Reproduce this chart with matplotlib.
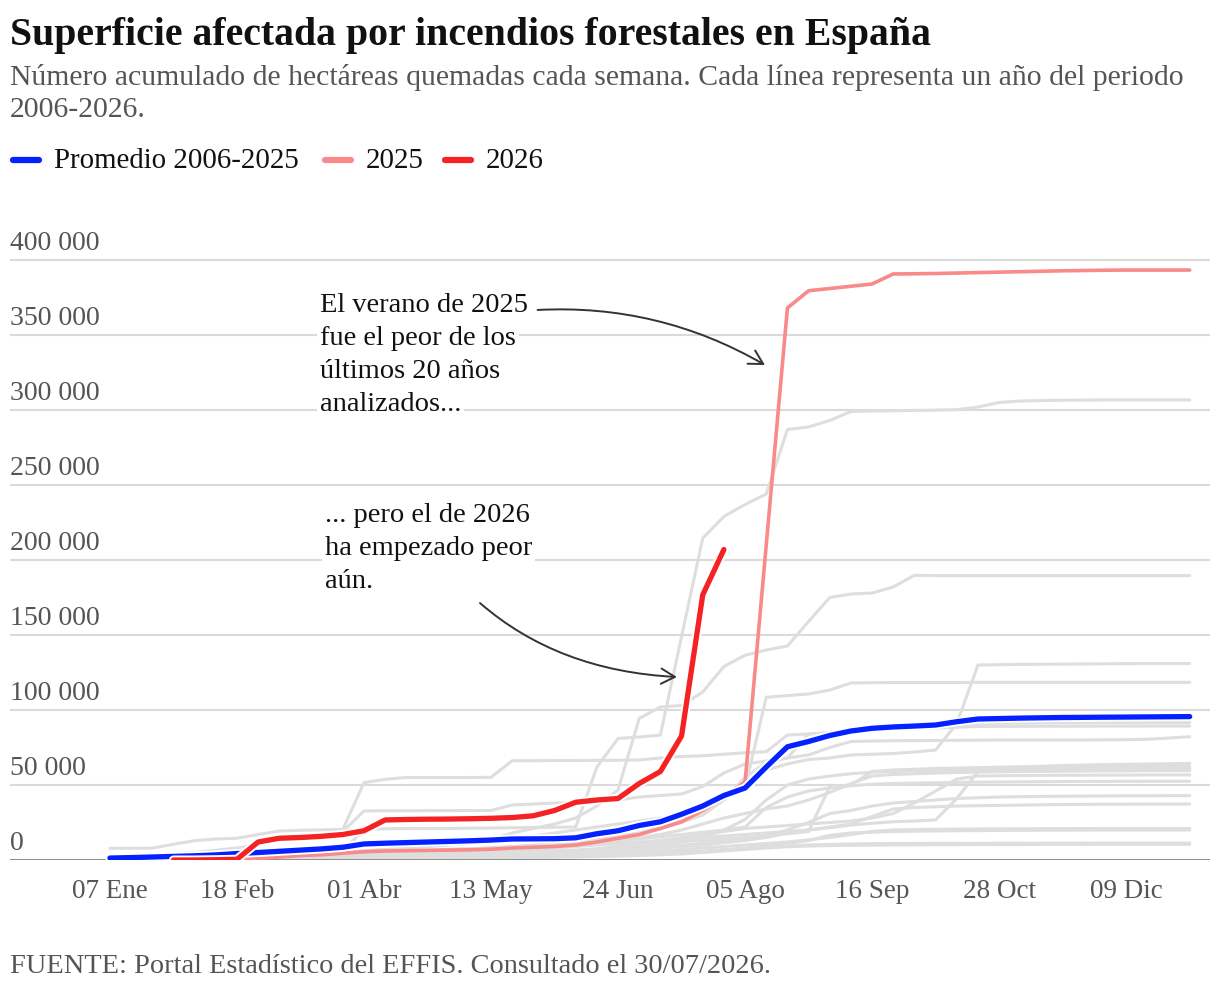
import numpy as np
import matplotlib
matplotlib.use("Agg")
import matplotlib.pyplot as plt
import matplotlib.patheffects as pe
import matplotlib.transforms as mtransforms
from matplotlib.lines import Line2D

plt.rcParams['font.family'] = ['Liberation Serif', 'DejaVu Serif']

# semanas desde el 07 Ene
semanas = np.arange(52)
etiquetas_x = ['07 Ene', '18 Feb', '01 Abr', '13 May', '24 Jun', '05 Ago', '16 Sep', '28 Oct', '09 Dic']
ticks_y = [0, 50000, 100000, 150000, 200000, 250000, 300000, 350000, 400000]

# valores en miles de hectáreas
promedio = [1.3, 1.6, 2.0, 2.4, 2.8, 3.4, 4.3, 5.0, 5.8, 6.6,
            7.4, 8.5, 10.7, 11.2, 11.6, 12.0, 12.4, 12.8, 13.3, 14.0,
            14.1, 14.2, 14.8, 17.5, 19.5, 23.0, 25.5, 30.5, 36.0, 43.0,
            48.0, 62.0, 75.5, 79.0, 83.0, 86.0, 87.8, 88.7, 89.3, 90.0,
            92.2, 94.0, 94.3, 94.6, 94.8, 95.0, 95.1, 95.2, 95.3, 95.4,
            95.5, 95.6]
anio_2025 = [0.1, 0.1, 0.2, 0.2, 0.3, 0.3, 0.4, 1.0, 2.0, 3.0,
             3.5, 4.5, 5.5, 6.0, 6.2, 6.4, 6.6, 6.8, 7.2, 8.0,
             8.5, 9.0, 10.0, 12.0, 14.5, 17.0, 21.0, 25.5, 33.0, 42.0,
             52.0, 210.0, 368.0, 379.5, 381.0, 382.5, 384.0, 390.7, 390.8, 391.0,
             391.3, 391.6, 391.9, 392.2, 392.5, 392.8, 393.0, 393.2, 393.3, 393.3,
             393.3, 393.3]
anio_2026 = [np.nan, np.nan, np.nan, 0.0, 0.0, 0.2, 0.5, 12.0, 14.5, 15.0,
             15.8, 17.0, 19.5, 26.7, 27.0, 27.2, 27.3, 27.5, 27.8, 28.3,
             29.5, 33.0, 38.5, 40.0, 41.0, 51.0, 59.0, 82.7, 176.7, 207.0]

gris_01 = [1.0, 1.2, 1.5, 1.8, 2.0, 2.5, 3.0, 3.5, 4.0, 4.5,
           5.0, 6.0, 20.5, 20.8, 21.0, 21.0, 21.0, 21.2, 21.3, 21.5,
           21.7, 21.8, 22.0, 62.0, 81.0, 82.0, 83.3, 149.0, 214.5, 229.0,
           237.0, 244.0, 287.0, 288.7, 293.0, 299.0, 299.3, 299.5, 299.7, 299.9,
           300.2, 302.0, 305.0, 306.0, 306.3, 306.5, 306.6, 306.7, 306.7, 306.7,
           306.7, 306.7]
gris_02 = [0.5, 0.8, 1.0, 1.3, 1.6, 2.0, 2.5, 3.0, 3.5, 4.0,
           4.5, 5.0, 6.0, 7.0, 8.0, 9.0, 10.5, 12.0, 14.0, 18.0,
           21.0, 24.0, 28.0, 36.0, 46.7, 94.4, 102.0, 103.0, 112.0, 129.0,
           136.5, 140.0, 142.7, 159.0, 175.0, 177.3, 178.0, 182.0, 189.8, 189.6,
           189.6, 189.6, 189.6, 189.6, 189.6, 189.6, 189.6, 189.6, 189.6, 189.6,
           189.6, 189.6]
gris_03 = [7.8, 7.8, 7.9, 10.5, 12.9, 14.0, 14.5, 17.0, 19.3, 19.8,
           20.1, 20.4, 51.6, 53.8, 55.0, 55.0, 55.0, 55.0, 55.1, 66.2,
           66.2, 66.3, 66.3, 66.4, 66.5, 66.7, 68.0, 69.0, 69.5, 70.5,
           71.5, 72.2, 83.3, 84.0, 84.7, 86.7, 87.5, 88.0, 88.5, 89.0,
           90.0, 91.0, 91.2, 91.3, 91.4, 91.5, 91.5, 91.6, 91.6, 91.6,
           91.6, 91.6]
gris_04 = [0.3, 0.5, 0.7, 0.9, 1.2, 1.5, 1.8, 2.2, 2.6, 3.0,
           3.5, 4.0, 4.5, 5.0, 5.5, 6.0, 6.5, 7.0, 7.5, 8.0,
           9.0, 10.0, 11.5, 13.0, 15.0, 18.0, 22.0, 28.0, 35.0, 41.0,
           48.0, 108.5, 109.6, 110.7, 113.3, 118.0, 118.2, 118.3, 118.3, 118.3,
           118.3, 118.4, 118.4, 118.4, 118.4, 118.4, 118.4, 118.4, 118.4, 118.4,
           118.4, 118.4]
gris_05 = [0.2, 0.3, 0.5, 0.7, 1.0, 1.3, 1.6, 2.0, 2.5, 3.0,
           3.5, 4.0, 4.5, 5.0, 5.5, 6.0, 6.5, 7.0, 8.0, 9.0,
           10.0, 11.0, 12.5, 14.0, 16.0, 18.0, 21.0, 25.0, 30.0, 40.0,
           52.0, 60.0, 64.0, 67.0, 68.0, 70.0, 70.5, 71.0, 72.0, 73.3,
           91.0, 130.0, 130.2, 130.4, 130.5, 130.6, 130.7, 130.8, 130.9, 131.0,
           131.0, 131.0]
gris_06 = [0.5, 0.8, 1.2, 1.5, 2.0, 2.5, 3.0, 3.5, 4.0, 4.5,
           5.0, 5.5, 6.0, 7.0, 8.0, 9.0, 10.0, 11.0, 12.0, 14.0,
           16.0, 18.0, 20.0, 22.0, 24.0, 26.0, 28.0, 30.0, 33.0, 40.0,
           55.0, 65.0, 68.0, 70.0, 75.0, 79.0, 79.3, 79.5, 79.6, 79.7,
           79.8, 79.9, 80.0, 80.0, 80.0, 80.0, 80.0, 80.1, 80.2, 80.5,
           81.3, 82.2]
gris_07 = [2.0, 2.5, 3.0, 4.0, 5.0, 6.5, 8.0, 10.0, 13.0, 15.0,
           17.0, 19.0, 32.7, 32.8, 32.8, 32.9, 32.9, 33.0, 33.0, 36.7,
           37.3, 38.0, 38.5, 39.0, 40.0, 42.0, 43.0, 44.0, 49.0, 58.0,
           64.0, 66.0, 68.0, 84.0, 85.0, 86.0, 86.5, 87.0, 87.5, 88.0,
           88.5, 89.0, 89.1, 89.1, 89.2, 89.2, 89.2, 89.3, 89.3, 89.3,
           89.3, 89.3]
gris_08 = [0.2, 0.3, 0.4, 0.5, 0.6, 0.8, 1.0, 1.2, 1.5, 1.8,
           2.0, 2.3, 2.6, 3.0, 3.5, 4.0, 4.5, 5.0, 5.5, 6.0,
           7.0, 8.0, 9.0, 10.0, 11.0, 12.0, 13.0, 14.0, 15.0, 16.0,
           17.0, 18.0, 19.0, 20.0, 21.5, 23.3, 24.5, 25.5, 26.0, 26.7,
           41.0, 59.0, 61.0, 62.0, 62.5, 63.0, 63.3, 63.6, 63.8, 64.0,
           64.2, 64.4]
gris_09 = [0.3, 0.5, 0.8, 1.0, 1.3, 1.6, 2.0, 2.5, 3.0, 3.5,
           4.0, 4.5, 5.0, 5.5, 6.0, 6.5, 7.0, 7.5, 8.0, 8.5,
           9.0, 9.5, 10.0, 10.5, 11.0, 11.5, 12.0, 12.5, 13.0, 14.0,
           15.0, 16.0, 17.5, 19.0, 49.0, 50.0, 59.0, 60.0, 60.5, 61.0,
           61.3, 61.6, 61.9, 62.1, 62.3, 62.4, 62.5, 62.6, 62.6, 62.7,
           62.7, 62.7]
gris_10 = [0.1, 0.2, 0.3, 0.4, 0.5, 0.6, 0.8, 1.0, 1.2, 1.4,
           1.6, 1.8, 2.0, 2.3, 2.6, 3.0, 3.4, 3.8, 4.2, 4.6,
           5.0, 5.5, 6.0, 7.0, 8.0, 9.0, 10.5, 12.0, 15.0, 20.0,
           27.0, 40.0, 50.0, 54.0, 56.0, 57.5, 58.5, 59.0, 59.5, 59.8,
           60.0, 60.2, 60.4, 60.6, 60.7, 60.8, 60.9, 61.0, 61.0, 61.1,
           61.1, 61.1]
gris_11 = [0.5, 0.7, 1.0, 1.3, 1.6, 2.0, 2.4, 2.8, 3.2, 3.6,
           4.0, 4.4, 5.0, 5.5, 6.0, 6.5, 7.0, 7.5, 8.0, 8.5,
           9.0, 10.0, 11.0, 12.0, 13.0, 15.0, 17.0, 20.0, 24.0, 28.0,
           31.0, 34.0, 36.0, 40.0, 45.0, 51.0, 56.0, 57.0, 57.5, 58.0,
           58.3, 58.6, 58.8, 59.0, 59.1, 59.2, 59.3, 59.4, 59.4, 59.5,
           59.5, 59.5]
gris_12 = [0.2, 0.3, 0.4, 0.6, 0.8, 1.0, 1.2, 1.4, 1.6, 1.8,
           2.0, 2.2, 2.4, 2.7, 3.0, 3.3, 3.6, 4.0, 4.4, 4.8,
           5.2, 5.8, 6.5, 7.5, 9.0, 11.0, 13.0, 15.0, 17.0, 19.0,
           21.0, 22.0, 23.0, 24.0, 25.0, 26.0, 28.0, 31.0, 38.0, 46.0,
           54.0, 56.0, 56.2, 56.3, 56.4, 56.5, 56.5, 56.6, 56.6, 56.7,
           56.7, 56.7]
gris_13 = [0.3, 0.5, 0.7, 1.0, 1.3, 1.6, 2.0, 2.4, 2.8, 3.2,
           3.6, 4.0, 4.5, 5.0, 5.5, 6.0, 6.5, 7.0, 7.5, 8.0,
           9.0, 10.0, 11.0, 12.0, 13.0, 14.0, 15.5, 17.0, 18.5, 20.0,
           22.0, 35.0, 42.0, 46.0, 48.0, 49.5, 50.5, 51.0, 51.3, 51.5,
           51.7, 51.9, 52.0, 52.1, 52.2, 52.3, 52.4, 52.4, 52.5, 52.5,
           52.5, 52.5]
gris_14 = [0.2, 0.3, 0.4, 0.5, 0.6, 0.7, 0.9, 1.1, 1.3, 1.5,
           1.8, 2.1, 2.4, 2.7, 3.0, 3.4, 3.8, 4.2, 4.6, 5.0,
           5.5, 6.0, 6.5, 7.0, 7.5, 8.0, 9.0, 10.0, 11.0, 12.5,
           14.0, 16.0, 20.0, 25.0, 31.0, 33.0, 36.0, 38.0, 39.0, 40.0,
           41.0, 41.5, 42.0, 42.2, 42.4, 42.5, 42.6, 42.7, 42.8, 42.8,
           42.9, 42.9]
gris_15 = [0.1, 0.2, 0.3, 0.4, 0.5, 0.6, 0.7, 0.8, 1.0, 1.2,
           1.4, 1.6, 1.8, 2.0, 2.2, 2.5, 2.8, 3.1, 3.4, 3.7,
           4.0, 4.5, 5.0, 5.5, 6.0, 7.0, 8.0, 9.0, 10.0, 11.5,
           13.0, 15.0, 18.0, 20.0, 22.0, 24.0, 29.0, 34.0, 35.0, 35.5,
           36.0, 36.2, 36.4, 36.6, 36.8, 37.0, 37.1, 37.2, 37.2, 37.3,
           37.3, 37.3]
gris_16 = [0.1, 0.2, 0.3, 0.4, 0.5, 0.6, 0.7, 0.8, 0.9, 1.0,
           1.2, 1.4, 1.6, 1.8, 2.0, 2.2, 2.4, 2.6, 2.8, 3.0,
           3.3, 3.6, 4.0, 4.5, 5.0, 5.5, 6.0, 7.0, 8.0, 9.0,
           10.0, 11.0, 12.0, 13.5, 15.0, 17.0, 19.0, 20.0, 20.3, 20.5,
           20.6, 20.7, 20.8, 20.8, 20.9, 20.9, 21.0, 21.0, 21.0, 21.0,
           21.0, 21.0]
gris_17 = [0.2, 0.3, 0.4, 0.5, 0.6, 0.7, 0.8, 0.9, 1.0, 1.1,
           1.2, 1.3, 1.5, 1.7, 1.9, 2.1, 2.3, 2.5, 2.7, 2.9,
           3.1, 3.3, 3.6, 3.9, 4.2, 4.6, 5.0, 5.5, 6.0, 7.0,
           8.0, 9.5, 11.0, 13.0, 16.5, 18.0, 18.5, 19.0, 19.2, 19.4,
           19.5, 19.6, 19.7, 19.8, 19.8, 19.9, 19.9, 20.0, 20.0, 20.0,
           20.0, 20.0]
gris_18 = [0.1, 0.1, 0.2, 0.2, 0.3, 0.3, 0.4, 0.5, 0.6, 0.7,
           0.8, 0.9, 1.0, 1.1, 1.2, 1.3, 1.5, 1.7, 1.9, 2.1,
           2.3, 2.5, 2.8, 3.1, 3.4, 3.8, 4.2, 4.8, 5.5, 6.5,
           7.5, 8.5, 9.3, 10.0, 10.4, 10.7, 10.9, 11.0, 11.0, 11.1,
           11.1, 11.1, 11.2, 11.2, 11.2, 11.2, 11.3, 11.3, 11.3, 11.3,
           11.3, 11.3]
gris_19 = [0.1, 0.1, 0.1, 0.2, 0.2, 0.2, 0.3, 0.3, 0.4, 0.4,
           0.5, 0.5, 0.6, 0.7, 0.8, 0.9, 1.0, 1.1, 1.2, 1.4,
           1.6, 1.8, 2.0, 2.3, 2.6, 3.0, 3.5, 4.0, 5.0, 6.0,
           7.0, 8.0, 8.8, 9.3, 9.6, 9.8, 9.9, 10.0, 10.1, 10.2,
           10.2, 10.3, 10.3, 10.3, 10.4, 10.4, 10.4, 10.5, 10.5, 10.5,
           10.5, 10.5]
grises = [gris_01, gris_02, gris_03, gris_04, gris_05, gris_06, gris_07,
          gris_08, gris_09, gris_10, gris_11, gris_12, gris_13, gris_14,
          gris_15, gris_16, gris_17, gris_18, gris_19]

AZUL = '#0521ff'
ROJO = '#f42222'
ROSA = '#f88a8a'
GRIS = '#dedede'
TEXTO_GRIS = '#555555'

W, H = 1220, 988
fig = plt.figure(figsize=(W / 100, H / 100), dpi=100)
ax = fig.add_axes([10 / W, 128 / H, 1200 / W, 630 / H])
ax.set_xlim(-4.72, 51.96)
ax.set_ylim(0, 420000)

for s in ax.spines.values():
    s.set_visible(False)

ax.set_yticks(ticks_y)
ax.yaxis.grid(True, color='#dadada', lw=1.5, zorder=0)
ax.tick_params(axis='y', length=0, labelleft=False)
ax.set_axisbelow(True)

ax.set_xticks(semanas[::6], labels=etiquetas_x)
ax.tick_params(axis='x', length=0, pad=14, labelsize=19.5, labelcolor=TEXTO_GRIS)

trans_y = mtransforms.blended_transform_factory(ax.transAxes, ax.transData)
for v in ticks_y:
    ax.annotate(f"{v:,}".replace(",", " "), xy=(0, v), xycoords=trans_y,
                xytext=(0, 7), textcoords='offset points',
                ha='left', va='baseline', fontsize=20, color=TEXTO_GRIS)

for g in grises:
    ax.plot(semanas, np.array(g) * 1000, color=GRIS, lw=2.2, zorder=2,
            solid_capstyle='round', solid_joinstyle='round')

ax.axhline(0, color='#777777', lw=1.8, zorder=3)

halo = [pe.Stroke(linewidth=6.5, foreground='white'), pe.Normal()]
ax.plot(semanas, np.array(anio_2025) * 1000, color=ROSA, lw=2.6, zorder=4,
        solid_capstyle='round', solid_joinstyle='round')
ax.plot(semanas, np.array(promedio) * 1000, color=AZUL, lw=3.8, zorder=5,
        solid_capstyle='round', solid_joinstyle='round', path_effects=halo)
ax.plot(semanas[:len(anio_2026)], np.array(anio_2026) * 1000, color=ROJO, lw=3.8,
        zorder=6, solid_capstyle='round', solid_joinstyle='round', path_effects=halo)

# anotaciones
def nota(lineas, x, y0, paso):
    for i, t in enumerate(lineas):
        ax.text(x, y0 - i * paso, t, fontsize=20.5, color='#111111', ha='left',
                va='baseline', zorder=7,
                bbox=dict(boxstyle='square,pad=0.1', fc='white', ec='none'))

nota(['El verano de 2025', 'fue el peor de los', 'últimos 20 años', 'analizados...'],
     9.92, 365300, 22000)
nota(['... pero el de 2026', 'ha empezado peor', 'aún.'], 10.16, 225300, 22000)

flecha = dict(arrowstyle='->,head_length=0.45,head_width=0.25', color='#333333',
              lw=1.4, shrinkA=0, shrinkB=0, mutation_scale=22)
ax.annotate('', xy=(30.94, 330000), xytext=(20.2, 366700),
            arrowprops=dict(connectionstyle='angle3,angleA=3,angleB=-30', **flecha), zorder=7)
ax.annotate('', xy=(26.78, 122000), xytext=(17.48, 171300),
            arrowprops=dict(connectionstyle='angle3,angleA=-41,angleB=-3', **flecha), zorder=7)

# titulo, subtitulo, leyenda y fuente
fig.text(10 / W, 1 - 45 / H, 'Superficie afectada por incendios forestales en España',
         fontsize=28.6, fontweight='bold', color='#111111', va='baseline')
fig.text(10 / W, 1 - 85 / H,
         'Número acumulado de hectáreas quemadas cada semana. Cada línea representa un año del periodo',
         fontsize=21.4, color=TEXTO_GRIS, va='baseline')
fig.text(10 / W, 1 - 117 / H, '2006-2026.', fontsize=21.4, color=TEXTO_GRIS, va='baseline')

leyenda = [(AZUL, 'Promedio 2006-2025', 13, 39, 54),
           (ROSA, '2025', 325, 351, 366),
           (ROJO, '2026', 445, 471, 486)]
for color, txt, x0, x1, xt in leyenda:
    fig.add_artist(Line2D([x0 / W, x1 / W], [1 - 160 / H, 1 - 160 / H], color=color,
                          lw=4.5, solid_capstyle='round', transform=fig.transFigure))
    fig.text(xt / W, 1 - 168 / H, txt, fontsize=20.8, color='#111111', va='baseline')

fig.text(10 / W, 1 - 973 / H,
         'FUENTE: Portal Estadístico del EFFIS. Consultado el 30/07/2026.',
         fontsize=20.4, color=TEXTO_GRIS, va='baseline')

fig.savefig('out.png', dpi=100)
